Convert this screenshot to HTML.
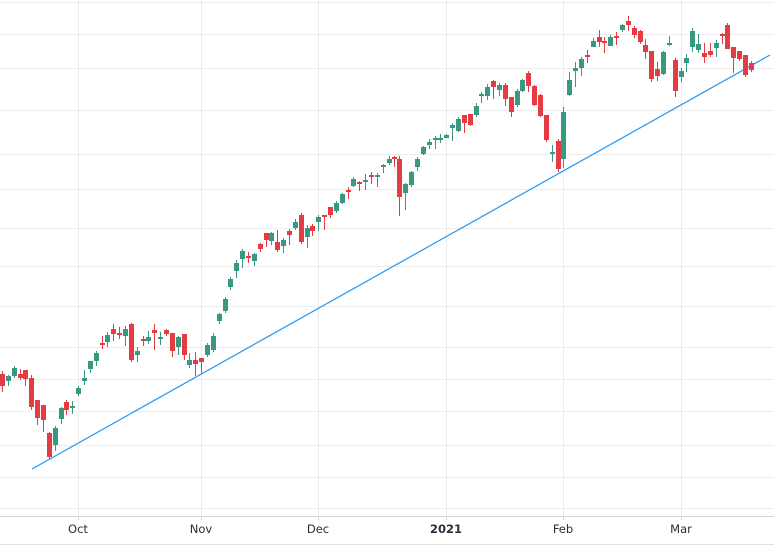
<!DOCTYPE html>
<html><head><meta charset="utf-8"><style>
html,body{margin:0;padding:0;background:#fff;}
svg{display:block;}
text{font-family:"DejaVu Sans","Liberation Sans",sans-serif;font-size:11.5px;fill:#2a2e39;}
</style></head><body>
<svg id="s" width="774" height="545" xmlns="http://www.w3.org/2000/svg" shape-rendering="crispEdges">
<g id="grid" stroke="#ececec" stroke-width="1"></g>
<line x1="32" y1="469" x2="770" y2="55" stroke="#2196f3" stroke-width="1.2" shape-rendering="auto"/>
<g id="c"></g>
<line x1="0" y1="516.5" x2="774" y2="516.5" stroke="#d6d6d6"/>
<line x1="0" y1="544.5" x2="774" y2="544.5" stroke="#e0e0e0"/>
<g id="ticks" stroke="#d6d6d6"></g>
<text x="78" y="533" text-anchor="middle">Oct</text>
<text x="201" y="533" text-anchor="middle">Nov</text>
<text x="318" y="533" text-anchor="middle">Dec</text>
<text x="446" y="533" text-anchor="middle" style="font-weight:bold">2021</text>
<text x="563" y="533" text-anchor="middle">Feb</text>
<text x="681" y="533" text-anchor="middle">Mar</text>
</svg>
<script>
var NS="http://www.w3.org/2000/svg";
function el(p,t,a){var e=document.createElementNS(NS,t);for(var k in a)e.setAttribute(k,a[k]);p.appendChild(e);return e;}
var g=document.getElementById('grid');
[2,34,68,110,154,189,228,266,306,347,379,411,445,477,508].forEach(function(y){el(g,'line',{x1:0,x2:774,y1:y+.5,y2:y+.5});});
[78,201,318,446,563,681].forEach(function(x){el(g,'line',{x1:x+.5,x2:x+.5,y1:0,y2:516});el(document.getElementById('ticks'),'line',{x1:x+.5,x2:x+.5,y1:516,y2:520});});
// x, bodyTop, bodyBot, wickTop, wickBot, color(g/r)
var d=[
[2,374,386,371,392,'r'],[8,376,381,375,386,'g'],[14,368,376,366,378,'g'],[20,374,378,369,380,'r'],[25,370,379,370,386,'r'],
[31,378,407,375,410,'r'],[37,400,418,400,425,'r'],[43,405,420,405,432,'r'],[49,433,457,432,459,'r'],[55,428,445,426,451,'g'],
[61,408,419,407,424,'g'],[66,402,410,400,415,'r'],[72,406,407,401,414,'g'],[78,388,394,386,396,'g'],[84,378,381,370,385,'g'],
[90,361,369,361,373,'g'],[96,353,361,351,366,'g'],[102,343,344,336,349,'r'],[107,335,342,332,347,'g'],[113,329,334,324,341,'r'],
[119,333,334,327,339,'r'],[125,329,336,326,346,'g'],[131,324,360,323,362,'r'],[137,351,355,347,362,'g'],[143,339,340,336,346,'r'],
[148,337,341,331,344,'g'],[154,330,333,324,350,'r'],[160,337,338,332,345,'g'],[166,330,334,329,336,'r'],[172,333,351,333,357,'r'],
[178,337,347,336,355,'g'],[184,334,355,334,360,'r'],[189,360,365,353,368,'g'],[195,360,364,352,376,'r'],[201,358,362,358,373,'r'],
[207,345,355,343,357,'g'],[213,336,350,333,352,'g'],[219,314,321,313,324,'g'],[225,299,311,297,313,'g'],[230,279,287,277,290,'g'],
[236,263,271,260,278,'g'],[242,251,259,249,268,'g'],[248,256,258,252,263,'r'],[254,254,261,253,266,'g'],[260,244,249,243,252,'r'],
[266,233,240,233,247,'r'],[271,233,241,232,245,'g'],[277,242,250,230,252,'r'],[283,240,246,238,253,'g'],[289,231,235,229,245,'r'],
[295,222,228,219,230,'g'],[301,215,242,213,244,'r'],[307,228,237,225,248,'g'],[312,226,231,224,236,'r'],[318,217,222,215,231,'g'],
[324,215,217,215,230,'r'],[330,207,215,207,218,'r'],[336,203,211,201,213,'g'],[342,194,203,193,204,'g'],[348,190,191,187,199,'r'],
[353,179,186,177,187,'g'],[359,182,183,181,191,'r'],[365,180,181,174,190,'g'],[371,175,176,172,184,'r'],[377,175,177,173,187,'g'],
[383,165,166,164,173,'g'],[389,159,163,156,165,'g'],[394,157,158,156,167,'r'],[399,159,197,156,216,'r'],[405,184,193,183,210,'g'],
[411,172,185,171,187,'g'],[417,159,167,157,171,'g'],[423,147,154,146,155,'g'],[429,142,145,139,149,'g'],[435,138,139,136,149,'g'],
[440,138,140,134,143,'g'],[446,135,138,134,138,'g'],[452,125,128,123,141,'g'],[458,119,131,117,132,'g'],[464,115,123,115,133,'r'],
[470,114,125,114,126,'r'],[476,106,115,103,117,'g'],[481,94,95,92,103,'g'],[487,87,96,84,100,'g'],[493,81,87,80,99,'r'],
[499,85,90,83,96,'g'],[505,85,99,83,106,'r'],[511,97,112,97,117,'r'],[517,91,105,89,107,'g'],[522,80,91,79,92,'g'],
[528,73,86,71,92,'r'],[534,86,105,85,106,'r'],[540,95,116,94,117,'r'],[546,115,140,115,142,'r'],[552,152,153,145,162,'g'],
[558,141,169,139,172,'r'],[563,112,159,107,168,'g'],[569,80,95,72,96,'g'],[575,68,71,62,87,'g'],[581,59,68,57,76,'g'],
[587,55,57,50,63,'r'],[593,41,47,38,47,'g'],[599,37,42,30,47,'r'],[604,41,42,37,53,'r'],[610,37,46,35,46,'g'],
[616,36,37,32,45,'r'],[622,25,30,24,32,'g'],[628,21,25,16,31,'r'],[634,28,35,26,38,'r'],[640,31,42,30,44,'r'],
[645,45,52,39,59,'r'],[651,51,79,51,82,'r'],[657,69,76,62,81,'r'],[663,52,74,51,75,'g'],[669,43,45,36,46,'g'],
[675,60,91,58,97,'r'],[681,71,77,68,82,'g'],[686,58,63,54,72,'g'],[692,31,47,28,52,'g'],[698,44,50,34,53,'g'],
[704,53,57,43,63,'r'],[710,51,55,43,57,'r'],[716,43,48,40,57,'g'],[722,34,36,33,44,'r'],[727,25,49,23,49,'r'],
[733,47,58,47,73,'r'],[739,51,59,51,61,'r'],[745,55,75,55,77,'r'],[751,63,70,61,72,'r']
];
var c=document.getElementById('c');
d.forEach(function(k){
 var col=k[5]=='g'?'#399882':'#e53b43';
 el(c,'rect',{x:k[0],y:k[3],width:1,height:Math.max(1,k[4]-k[3]),fill:col});
 el(c,'rect',{x:k[0]-2,y:k[1],width:5,height:Math.max(2,k[2]-k[1]),fill:col});
});
</script>
</body></html>
